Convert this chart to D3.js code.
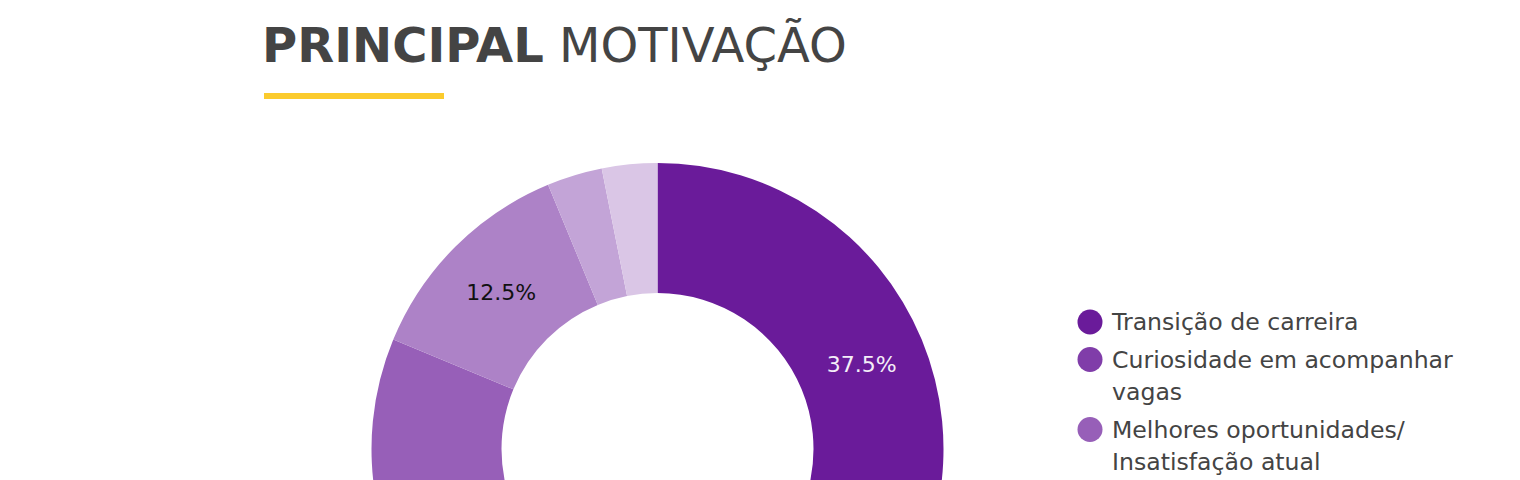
<!DOCTYPE html>
<html>
<head>
<meta charset="utf-8">
<script src="https://cdn.jsdelivr.net/npm/d3@7/dist/d3.min.js"></script>
<style>
  html, body { margin: 0; padding: 0; background: #ffffff; overflow: hidden; }
  svg { display: block; }
</style>
</head>
<body>
<svg id="chart" width="1520" height="480"></svg>
<script>
// ---- data ----
const titleBold = "PRINCIPAL";
const titleRegular = "MOTIVAÇÃO";
const categories = [
  "Transição de carreira",
  "Curiosidade em acompanhar vagas",
  "Melhores oportunidades/ Insatisfação atual",
  "Aprendizado e desenvolvimento",
  "Networking",
  "Outros"
];
const values = [37.5, 25.0, 18.75, 12.5, 3.125, 3.125];
const shownLabels = [true, true, true, true, false, false];

// ---- styles ----
const baseColor = "#6a1b9a";
const alphas = [1, 0.85, 0.7, 0.55, 0.4, 0.25];
const colors = alphas.map(a => d3.interpolateRgb("#ffffff", baseColor)(a));
const labelColors = ["#f4eef8", "#f4eef8", "#111111", "#111111", "#111111", "#111111"];
const fontFamily = "'DejaVu Sans', sans-serif";

const svg = d3.select("#chart");

// ---- title ----
const title = svg.append("text")
  .attr("x", 262).attr("y", 62)
  .attr("font-family", fontFamily)
  .attr("font-size", 48)
  .attr("fill", "#444444");
title.append("tspan").attr("font-weight", 700).text(titleBold);
title.append("tspan").attr("font-weight", 400).text(" " + titleRegular);

svg.append("rect")
  .attr("x", 264).attr("y", 93).attr("width", 180).attr("height", 6)
  .attr("fill", "#fbcb2d");

// ---- donut ----
const cx = 657.5, cy = 449, outerR = 286, innerR = 156;
const pie = d3.pie().sort(null).value(d => d.value);
const arc = d3.arc().innerRadius(innerR).outerRadius(outerR);
const data = categories.map((c, i) => ({ name: c, value: values[i], i }));
const arcs = pie(data);

const g = svg.append("g").attr("transform", `translate(${cx},${cy})`);
g.selectAll("path.slice")
  .data(arcs)
  .join("path")
  .attr("class", "slice")
  .attr("d", arc)
  .attr("fill", d => colors[d.data.i]);

const fmt = v => (Math.round(v * 10) / 10).toFixed(1) + "%";
g.selectAll("text.lbl")
  .data(arcs.filter(d => shownLabels[d.data.i]))
  .join("text")
  .attr("class", "lbl")
  .attr("transform", d => `translate(${arc.centroid(d)})`)
  .attr("text-anchor", "middle")
  .attr("dominant-baseline", "central")
  .attr("font-family", fontFamily)
  .attr("font-size", 22)
  .attr("fill", d => labelColors[d.data.i])
  .text(d => fmt(d.data.value));

// ---- legend ----
const legendX = 1090, textX = 1112, maxW = 365, lineH = 32.5, itemGap = 5;
const legend = svg.append("g");
let y = 330;
categories.forEach((c, i) => {
  const t = legend.append("text")
    .attr("x", textX).attr("y", y)
    .attr("font-family", fontFamily)
    .attr("font-size", 23.6)
    .attr("fill", "#444444");
  const words = c.split(" ");
  let line = [];
  let ts = t.append("tspan").attr("x", textX).attr("dy", 0);
  let nLines = 1;
  words.forEach(w => {
    line.push(w);
    ts.text(line.join(" "));
    if (ts.node().getComputedTextLength() > maxW && line.length > 1) {
      line.pop();
      ts.text(line.join(" "));
      line = [w];
      ts = t.append("tspan").attr("x", textX).attr("dy", lineH).text(w);
      nLines++;
    }
  });
  legend.append("circle")
    .attr("cx", legendX).attr("cy", y - 8).attr("r", 12.5)
    .attr("fill", colors[i]);
  y += nLines * lineH + itemGap;
});
</script>
</body>
</html>
